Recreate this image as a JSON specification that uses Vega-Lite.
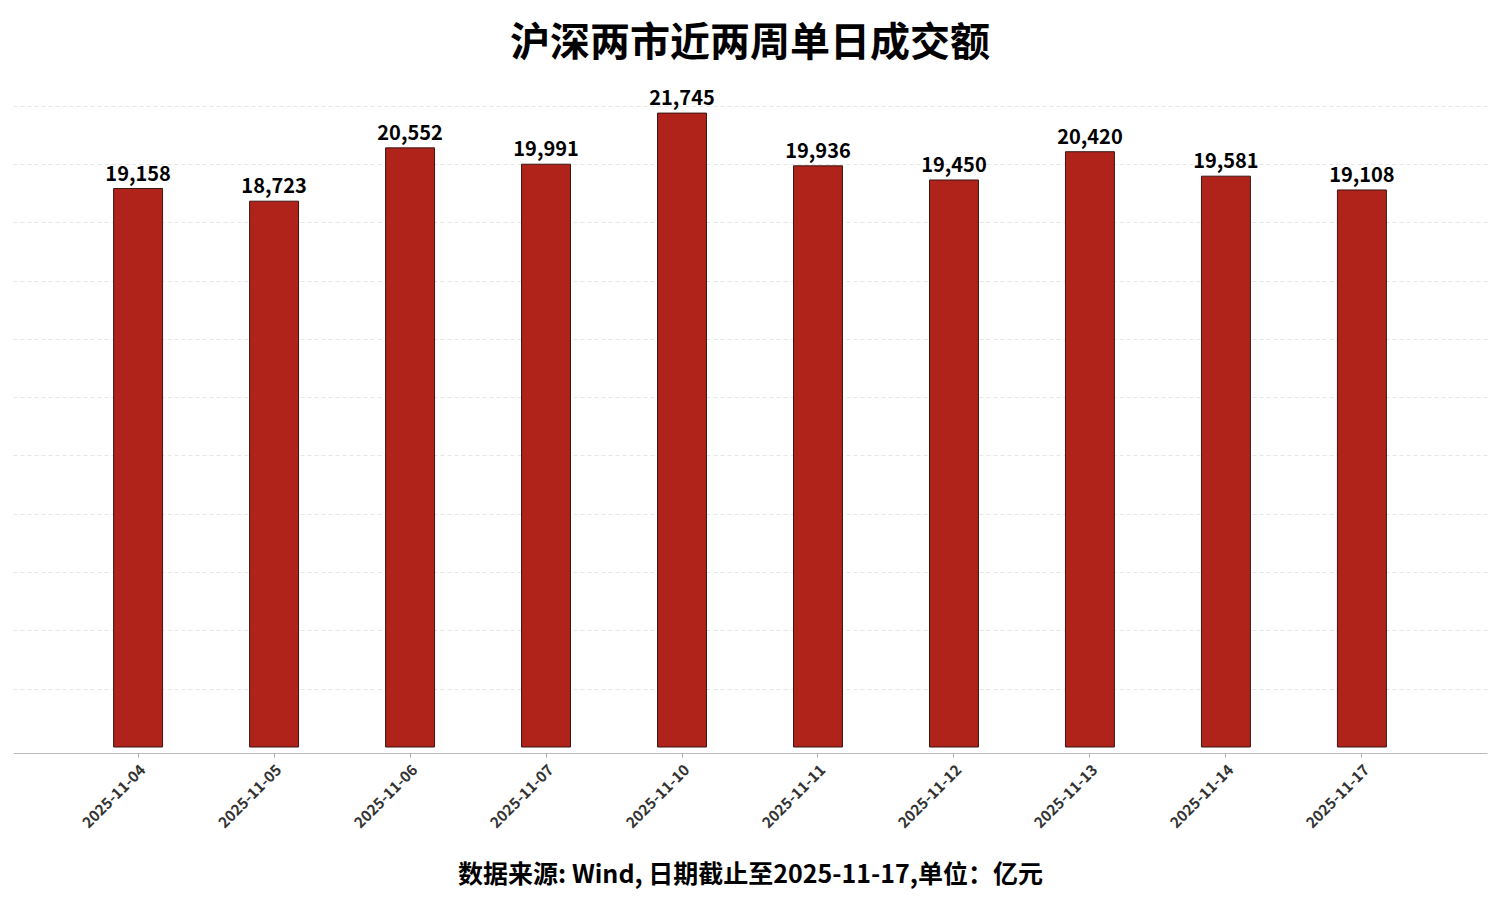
{
  "$schema": "https://vega.github.io/schema/vega-lite/v6.json",
  "width": 1474,
  "height": 659,
  "autosize": {"type": "none"},
  "padding": {"left": 13, "top": 94, "right": 13, "bottom": 147},
  "background": "white",
  "config": {
    "font": "Noto Sans CJK SC",
    "view": {"stroke": null}
  },
  "title": {
    "text": "沪深两市近两周单日成交额",
    "fontSize": 40,
    "fontWeight": "bold",
    "color": "#000000",
    "anchor": "middle",
    "frame": "group",
    "offset": 25,
    "font": "Noto Sans CJK SC"
  },
  "data": {
    "values": [
      {"date": "2025-11-04", "amount": 19158},
      {"date": "2025-11-05", "amount": 18723},
      {"date": "2025-11-06", "amount": 20552},
      {"date": "2025-11-07", "amount": 19991},
      {"date": "2025-11-10", "amount": 21745},
      {"date": "2025-11-11", "amount": 19936},
      {"date": "2025-11-12", "amount": 19450},
      {"date": "2025-11-13", "amount": 20420},
      {"date": "2025-11-14", "amount": 19581},
      {"date": "2025-11-17", "amount": 19108}
    ]
  },
  "encoding": {
    "x": {
      "field": "date",
      "type": "nominal",
      "sort": null,
      "scale": {"paddingInner": 0.64, "paddingOuter": 0.74},
      "axis": {
        "title": "数据来源: Wind, 日期截止至2025-11-17,单位：亿元",
        "titleFontSize": 25,
        "titleFontWeight": "bold",
        "titleColor": "#000000",
        "titlePadding": 32,
        "labelAngle": -45,
        "labelFontSize": 15,
        "labelFontWeight": "bold",
        "labelColor": "#333333",
        "labelPadding": 5,
        "domainColor": "#bbbbbb",
        "domainWidth": 1,
        "tickColor": "#aaaaaa",
        "tickSize": 4,
        "grid": false
      }
    },
    "y": {
      "field": "amount",
      "type": "quantitative",
      "scale": {"domain": [-206, 22400], "nice": false, "zero": false},
      "axis": {
        "title": null,
        "labels": false,
        "ticks": false,
        "domain": false,
        "grid": true,
        "gridColor": "#e6e6e6",
        "gridDash": [4, 3],
        "gridWidth": 1,
        "values": [2000, 4000, 6000, 8000, 10000, 12000, 14000, 16000, 18000, 20000, 22000]
      }
    }
  },
  "layer": [
    {
      "mark": {"type": "bar", "fill": "#B0231A", "stroke": "#3a1512", "strokeWidth": 1},
      "encoding": {"y2": {"datum": 0}}
    },
    {
      "mark": {
        "type": "text",
        "fontSize": 20,
        "fontWeight": "bold",
        "color": "#000000",
        "baseline": "alphabetic",
        "dy": -8,
        "font": "Noto Sans CJK SC"
      },
      "encoding": {
        "text": {"field": "amount", "type": "quantitative", "format": ","}
      }
    }
  ]
}
